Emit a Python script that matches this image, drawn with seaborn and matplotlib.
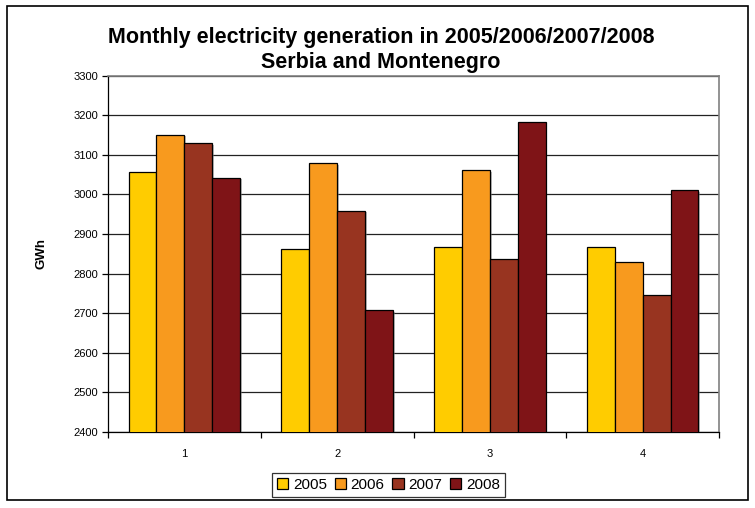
import pandas as pd
import matplotlib
matplotlib.use("Agg")
import matplotlib.pyplot as plt
import matplotlib.patheffects as pe
from matplotlib.patches import Rectangle
import seaborn as sns

# Values (GWh)
months = ["1", "2", "3", "4"]
years = ["2005", "2006", "2007", "2008"]
gen_2005 = [3056, 2862, 2868, 2868]
gen_2006 = [3151, 3079, 3062, 2829]
gen_2007 = [3130, 2959, 2836, 2746]
gen_2008 = [3042, 2708, 3183, 3011]
colors = ["#FFCC00", "#F89A1E", "#983420", "#7F1417"]

df = pd.DataFrame({
    "month": months * 4,
    "year": [y for y in years for _ in months],
    "value": gen_2005 + gen_2006 + gen_2007 + gen_2008,
})

sns.set_style("white")
plt.rcParams["font.family"] = ["Liberation Sans", "DejaVu Sans"]
plt.rcParams["text.color"] = "black"
plt.rcParams["axes.labelcolor"] = "black"
plt.rcParams["xtick.color"] = "black"
plt.rcParams["ytick.color"] = "black"

fig = plt.figure(figsize=(7.55, 5.08), dpi=100)
ax = fig.add_axes([108 / 755, 1 - 432 / 508, (719 - 108) / 755, (432 - 75.6) / 508])

sns.barplot(data=df, x="month", y="value", hue="year", palette=colors, saturation=1,
            width=0.73, gap=0, errorbar=None, edgecolor="black", linewidth=0.9,
            ax=ax, zorder=3)

for p in ax.patches:
    p.set_path_effects([pe.SimplePatchShadow(offset=(1.2, -1.2), shadow_rgbFace="gray", alpha=0.5),
                        pe.Normal()])

ax.set_ylim(2400, 3300)
ax.set_yticks(range(2400, 3301, 100))
ax.set_xlim(-0.5, 3.5)
ax.yaxis.grid(True, color="#222222", linewidth=0.9, zorder=0)
ax.set_axisbelow(True)

# tick marks on group boundaries, labels at group centres
ax.set_xticks([-0.5, 0.5, 1.5, 2.5, 3.5])
ax.set_xticklabels([])
ax.set_xticks(range(4), minor=True)
ax.set_xticklabels(months, minor=True)
ax.tick_params(axis="x", which="major", direction="out", length=4, width=0.9, color="black", bottom=True)
ax.tick_params(axis="x", which="minor", length=0, pad=12, labelsize=8)
ax.tick_params(axis="y", direction="out", length=4, width=0.9, color="black", left=True, labelsize=8, pad=3)

for s in ["left", "bottom"]:
    ax.spines[s].set_color("black")
    ax.spines[s].set_linewidth(0.9)
for s in ["top", "right"]:
    ax.spines[s].set_color("#808080")
    ax.spines[s].set_linewidth(1.2)

ax.set_xlabel("")
ax.set_ylabel("GWh", fontsize=9.5, fontweight="bold", labelpad=19)

fig.text(381 / 755, 1 - 37 / 508, "Monthly electricity generation in 2005/2006/2007/2008",
         ha="center", va="center", fontsize=15.5, fontweight="bold")
fig.text(381 / 755, 1 - 62.5 / 508, "Serbia and Montenegro",
         ha="center", va="center", fontsize=15.5, fontweight="bold")

ax.legend(title=None, ncol=4, loc="center", bbox_to_anchor=(388.5 / 755, 1 - 485 / 508),
          bbox_transform=fig.transFigure, frameon=True, fancybox=False, edgecolor="black",
          fontsize=11, handlelength=0.75, handleheight=0.75, handletextpad=0.3,
          columnspacing=0.5, borderpad=0.3, borderaxespad=0)
leg = ax.get_legend()
leg.get_frame().set_linewidth(0.9)
for h in leg.legend_handles:
    h.set_path_effects([])

fig.patches.append(Rectangle((7 / 755, 1 - 500 / 508), (748 - 7) / 755, (500 - 6) / 508,
                             transform=fig.transFigure, fill=False, edgecolor="black", linewidth=1.2))

fig.savefig("out.png", dpi=100)
